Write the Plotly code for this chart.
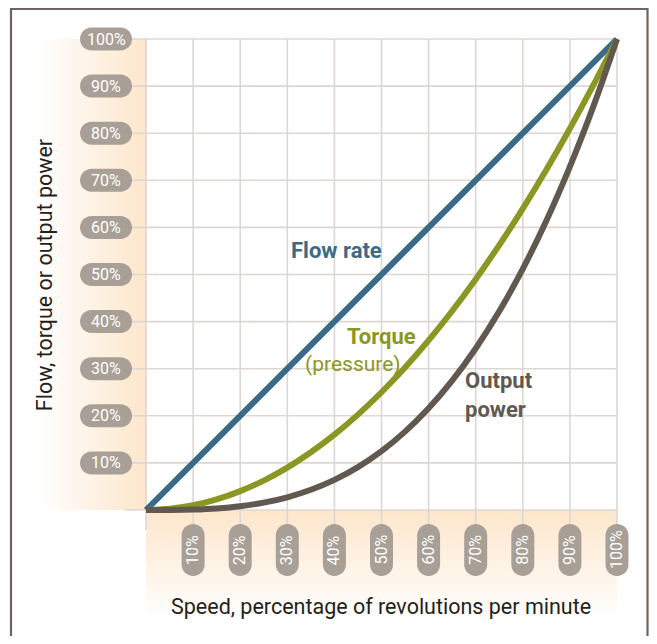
import plotly.graph_objects as go

# ---- data ----
speed = [0, 5, 10, 15, 20, 25, 30, 35, 40, 45, 50, 55, 60, 65, 70, 75, 80, 85, 90, 95, 100]
flow_rate = [0, 5, 10, 15, 20, 25, 30, 35, 40, 45, 50, 55, 60, 65, 70, 75, 80, 85, 90, 95, 100]
torque = [0, 0.25, 1, 2.25, 4, 6.25, 9, 12.25, 16, 20.25, 25, 30.25, 36, 42.25, 49,
          56.25, 64, 72.25, 81, 90.25, 100]
output_power = [0, 0.01, 0.1, 0.34, 0.8, 1.56, 2.7, 4.29, 6.4, 9.11, 12.5, 16.64, 21.6,
                27.46, 34.3, 42.19, 51.2, 61.41, 72.9, 85.74, 100]
tick_values = [10, 20, 30, 40, 50, 60, 70, 80, 90, 100]
tick_labels = ["10%", "20%", "30%", "40%", "50%", "60%", "70%", "80%", "90%", "100%"]

# ---- styling ----
FONT = "Roboto, Liberation Sans, sans-serif"
BLUE = "#3a6a87"
OLIVE = "#8a9722"
BROWN = "#615850"
GRID = "#ddd7d1"
PILL = "#a89f96"
ORANGE = "#fde6cb"

# figure sized so that the page (with its 8px body margin) needs no scrollbars
W, H = 641, 628
OFF = 8
S = 4.71                         # pixels per percentage point
X0, Y0 = 146 - OFF, 510 - OFF    # origin inside the figure
xr = [-X0 / S, (W - X0) / S]
yr = [(Y0 - H) / S, Y0 / S]

fig = go.Figure()

# gradient bands
fig.add_trace(go.Scatter(
    x=[-23, 0, 0, -23, -23], y=[0, 0, 100, 100, 0], mode="lines", line=dict(width=0),
    fill="toself", fillgradient=dict(type="horizontal",
                                     colorscale=[[0, "rgba(253,230,203,0)"], [1, ORANGE]]),
    hoverinfo="skip", showlegend=False))
fig.add_trace(go.Scatter(
    x=[0, 100, 100, 0, 0], y=[-23.4, -23.4, 0, 0, -23.4], mode="lines", line=dict(width=0),
    fill="toself", fillgradient=dict(type="vertical",
                                     colorscale=[[0, "rgba(253,230,203,0)"], [1, ORANGE]]),
    hoverinfo="skip", showlegend=False))

# grid lines
gx, gy = [], []
for v in [0] + tick_values:
    gx += [v, v, None]
    gy += [-4.3, 100, None]
    gx += [-4.5 if v == 0 else -3.5, 100, None]
    gy += [v, v, None]
fig.add_trace(go.Scatter(x=gx, y=gy, mode="lines", line=dict(color=GRID, width=1.6),
                         hoverinfo="skip", showlegend=False))

# curves
fig.add_trace(go.Scatter(x=speed, y=flow_rate, mode="lines", line=dict(color=BLUE, width=6),
                         showlegend=False))
fig.add_trace(go.Scatter(x=speed, y=torque, mode="lines",
                         line=dict(color=OLIVE, width=6, shape="spline"), showlegend=False))
fig.add_trace(go.Scatter(x=speed, y=output_power, mode="lines",
                         line=dict(color=BROWN, width=6, shape="spline"), showlegend=False))


def pill(cx, cy, w, h):
    k = 0.5523
    if w >= h:
        r = h / 2
        x1, x2 = cx - w / 2 + r, cx + w / 2 - r
        return (f"M{x1},{cy - r} L{x2},{cy - r} "
                f"C{x2 + k * r},{cy - r} {x2 + r},{cy - k * r} {x2 + r},{cy} "
                f"C{x2 + r},{cy + k * r} {x2 + k * r},{cy + r} {x2},{cy + r} "
                f"L{x1},{cy + r} "
                f"C{x1 - k * r},{cy + r} {x1 - r},{cy + k * r} {x1 - r},{cy} "
                f"C{x1 - r},{cy - k * r} {x1 - k * r},{cy - r} {x1},{cy - r} Z")
    r = w / 2
    y1, y2 = cy - h / 2 + r, cy + h / 2 - r
    return (f"M{cx - r},{y1} L{cx - r},{y2} "
            f"C{cx - r},{y2 + k * r} {cx - k * r},{y2 + r} {cx},{y2 + r} "
            f"C{cx + k * r},{y2 + r} {cx + r},{y2 + k * r} {cx + r},{y2} "
            f"L{cx + r},{y1} "
            f"C{cx + r},{y1 - k * r} {cx + k * r},{y1 - r} {cx},{y1 - r} "
            f"C{cx - k * r},{y1 - r} {cx - r},{y1 - k * r} {cx - r},{y1} Z")


shapes = []
annotations = []
pw, ph = 52 / S, 23 / S
for v, lab in zip(tick_values, tick_labels):
    shapes.append(dict(type="path", path=pill(-8.49, v, pw, ph), fillcolor=PILL,
                       line=dict(width=0), layer="above"))
    annotations.append(dict(x=-8.49, y=v, text=lab, showarrow=False,
                            font=dict(family=FONT, size=16, color="white")))
    shapes.append(dict(type="path", path=pill(v, -8.49, ph, pw), fillcolor=PILL,
                       line=dict(width=0), layer="above"))
    annotations.append(dict(x=v, y=-8.49, text=lab, showarrow=False, textangle=-90,
                            font=dict(family=FONT, size=16, color="white")))

# frame
shapes.append(dict(type="rect", x0=(11 - 146) / S, x1=(W - 1.5 - X0) / S, y0=-40,
                   y1=(Y0 - 1.0) / S, line=dict(color="#6e6560", width=2.2), layer="above"))

annotations += [
    dict(x=40.55, y=55.0, text="<b>Flow rate</b>", showarrow=False,
         font=dict(family=FONT, size=22, color=BLUE)),
    dict(x=50.1, y=36.9, text="<b>Torque</b>", showarrow=False,
         font=dict(family=FONT, size=22, color=OLIVE)),
    dict(x=43.9, y=31.0, text="(pressure)", showarrow=False,
         font=dict(family=FONT, size=21, color=OLIVE)),
    dict(x=67.3, y=24.4, text="<b>Output<br>power</b>", showarrow=False, xanchor="left",
         align="left", font=dict(family=FONT, size=22, color=BROWN)),
    dict(x=-21.4, y=49.9, text="Flow, torque or output power", showarrow=False, textangle=-90,
         font=dict(family=FONT, size=21.5, color="#231f20")),
    dict(x=49.9, y=-20.4, text="Speed, percentage of revolutions per minute", showarrow=False,
         font=dict(family=FONT, size=21.5, color="#231f20")),
]

fig.update_layout(
    width=W, height=H, margin=dict(l=0, r=0, t=0, b=0),
    paper_bgcolor="white", plot_bgcolor="white",
    xaxis=dict(range=xr, visible=False, fixedrange=True),
    yaxis=dict(range=yr, visible=False, fixedrange=True),
    shapes=shapes, annotations=annotations, showlegend=False,
)

fig.write_html("out.html")
